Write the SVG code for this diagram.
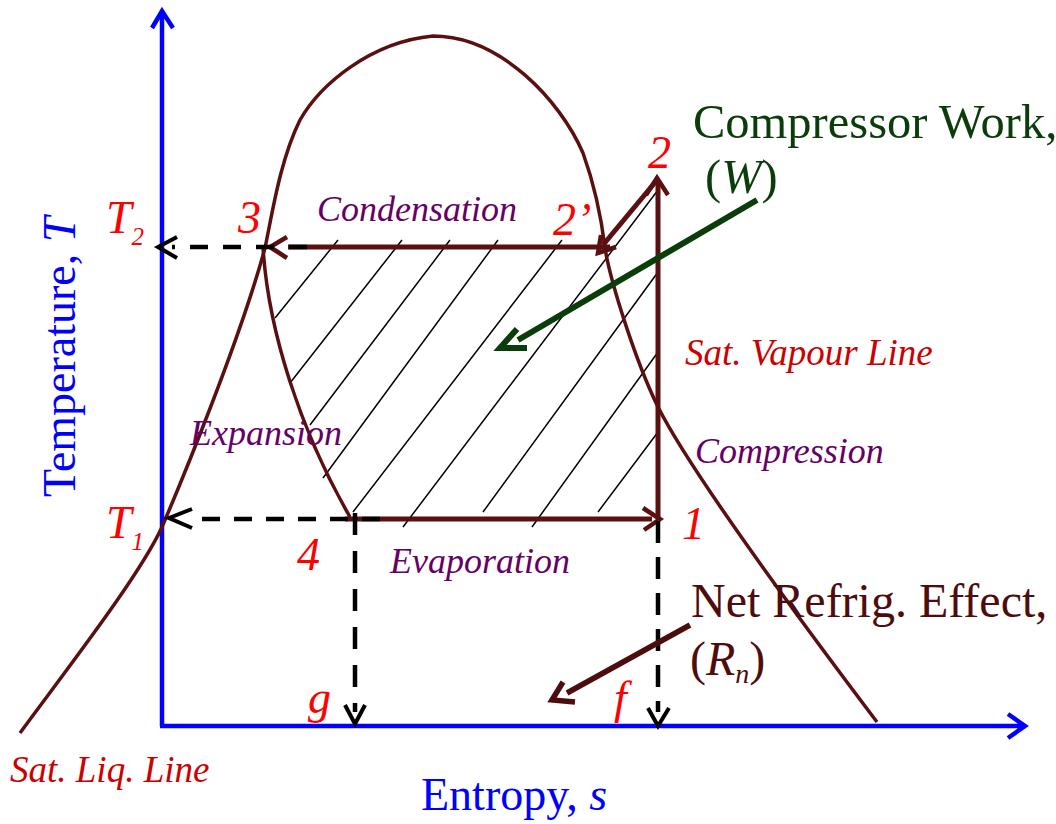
<svg xmlns="http://www.w3.org/2000/svg" width="1056" height="824" viewBox="0 0 1056 824">
<style>
.ax{stroke:#0000ff;stroke-width:4.5;fill:none}
.sat{stroke:#5a1010;stroke-width:3.5;fill:none}
.cyc{stroke:#5a1010;stroke-width:5;fill:none}
.hd{stroke:#5a1010;stroke-width:4.5;fill:none;stroke-linejoin:miter}
.dash{stroke:#000;stroke-width:4.5;fill:none}
.chev{stroke:#000;stroke-width:4;fill:none}
.hat{stroke:#000;stroke-width:1.5;fill:none}
.red{font-family:"Liberation Serif",serif;font-style:italic;font-size:46px;fill:#ff0000}
.pur{font-family:"Liberation Serif",serif;font-style:italic;font-size:36px;fill:#660066}
.satl{font-family:"Liberation Serif",serif;font-style:italic;font-size:37px;fill:#cc0000}
.axl{font-family:"Liberation Serif",serif;font-size:46px;fill:#0000ff}
.grn{font-family:"Liberation Serif",serif;font-size:48.5px;fill:#0b3d0b}
.mar{font-family:"Liberation Serif",serif;font-size:48px;fill:#4d0d0d}
</style>
<rect width="1056" height="824" fill="#fff"/>
<g id="axes">
<path class="ax" d="M162,726 L162,13 M152,28 L162,11 L173,28"/>
<path class="ax" d="M160,726 L1023,726 M1008,714 L1025,726 L1008,738"/>
</g>
<g id="hatch">
<path class="hat" d="M275,318 L338,240 M290,383 L402,240 M310,425 L450,240 M323,478 L498,240 M353,512 L562,240 M403,527 L658,190 M483,512 L658,272 M532,527 L658,352 M598,512 L658,432"/>
</g>
<g id="saturation-dome">
<path class="sat" d="M20,733 C70,665 140,575 162,527 C180,485 240,340 265,248 C272,215 280,160 300,120 C320,85 370,42 433,36 C500,36 560,100 583,153 C592,178 601,215 605,248 C610,280 635,360 658,407 C690,470 800,620 877,722"/>
</g>
<g id="connectors">
<path id="expansion" class="sat" d="M263,247 C268,330 300,430 350,517"/>
<path id="condensation" class="cyc" d="M610,247 L288,247"/>
<path class="hd" d="M287,237 L270,247 L287,258"/>
<path id="evaporation" class="cyc" d="M345,519 L652,519"/>
<path class="hd" d="M643,508 L660,519 L644,530"/>
<path id="compression" class="cyc" d="M658,519 L658,182"/>
<path class="hd" d="M646,195 L657,178 L668,195"/>
<path id="desuperheat" class="cyc" d="M657,180 L603,245"/>
<path class="hd" d="M601,235 L598,253 L616,247"/>
<path class="dash" stroke-dasharray="18 15" d="M307,247 L172,247"/>
<path class="chev" d="M177,237 L158,247 L177,258"/>
<path class="dash" stroke-dasharray="18 14" d="M380,519 L198,519"/>
<path class="chev" d="M192,509 L169,518 L192,528"/>
<path class="dash" stroke-dasharray="22 16" d="M355,513 L355,712"/>
<path class="chev" d="M345,705 L355,724 L365,705"/>
<path class="dash" stroke-dasharray="22 14" d="M658,521 L658,712"/>
<path class="chev" d="M648,708 L658,726 L669,708"/>
<path id="work-arrow" stroke="#0b3d0b" stroke-width="6" fill="none" d="M757,200 L518,340 M517,329 L500,348 L527,348"/>
<path id="refrig-arrow" stroke="#4d0d0d" stroke-width="5.5" fill="none" d="M690,625 L567,693 M563,682 L552,700 L575,702"/>
</g>
<g id="labels">
<text class="red" x="106" y="233">T<tspan font-size="25" dy="12">2</tspan></text>
<text class="red" x="106" y="538">T<tspan font-size="25" dy="12">1</tspan></text>
<text class="red" x="238" y="233">3</text>
<text class="red" x="553" y="235">2’</text>
<text class="red" x="648" y="168">2</text>
<text class="red" x="682" y="539">1</text>
<text class="red" x="297" y="570">4</text>
<text class="red" x="308" y="713">g</text>
<text class="red" x="614" y="713">f</text>
<text class="pur" x="317" y="221">Condensation</text>
<text class="pur" x="190" y="445">Expansion</text>
<text class="pur" x="390" y="573">Evaporation</text>
<text class="pur" x="695" y="463">Compression</text>
<text class="satl" x="685" y="365">Sat. Vapour Line</text>
<text class="satl" x="10" y="782">Sat. Liq. Line</text>
<text class="axl" transform="translate(75,497) rotate(-90)">Temperature, <tspan font-style="italic">T</tspan></text>
<text class="axl" x="421" y="810">Entropy, <tspan font-style="italic">s</tspan></text>
<text class="grn" x="693" y="138">Compressor Work,</text>
<text class="grn" x="705" y="193" font-size="46">(<tspan font-style="italic">W</tspan>)</text>
<text class="mar" x="691" y="617">Net Refrig. Effect,</text>
<text class="mar" x="690" y="675" font-size="46">(<tspan font-style="italic">R</tspan><tspan font-style="italic" font-size="28" dy="8">n</tspan><tspan dy="-8">)</tspan></text>
</g>
</svg>
